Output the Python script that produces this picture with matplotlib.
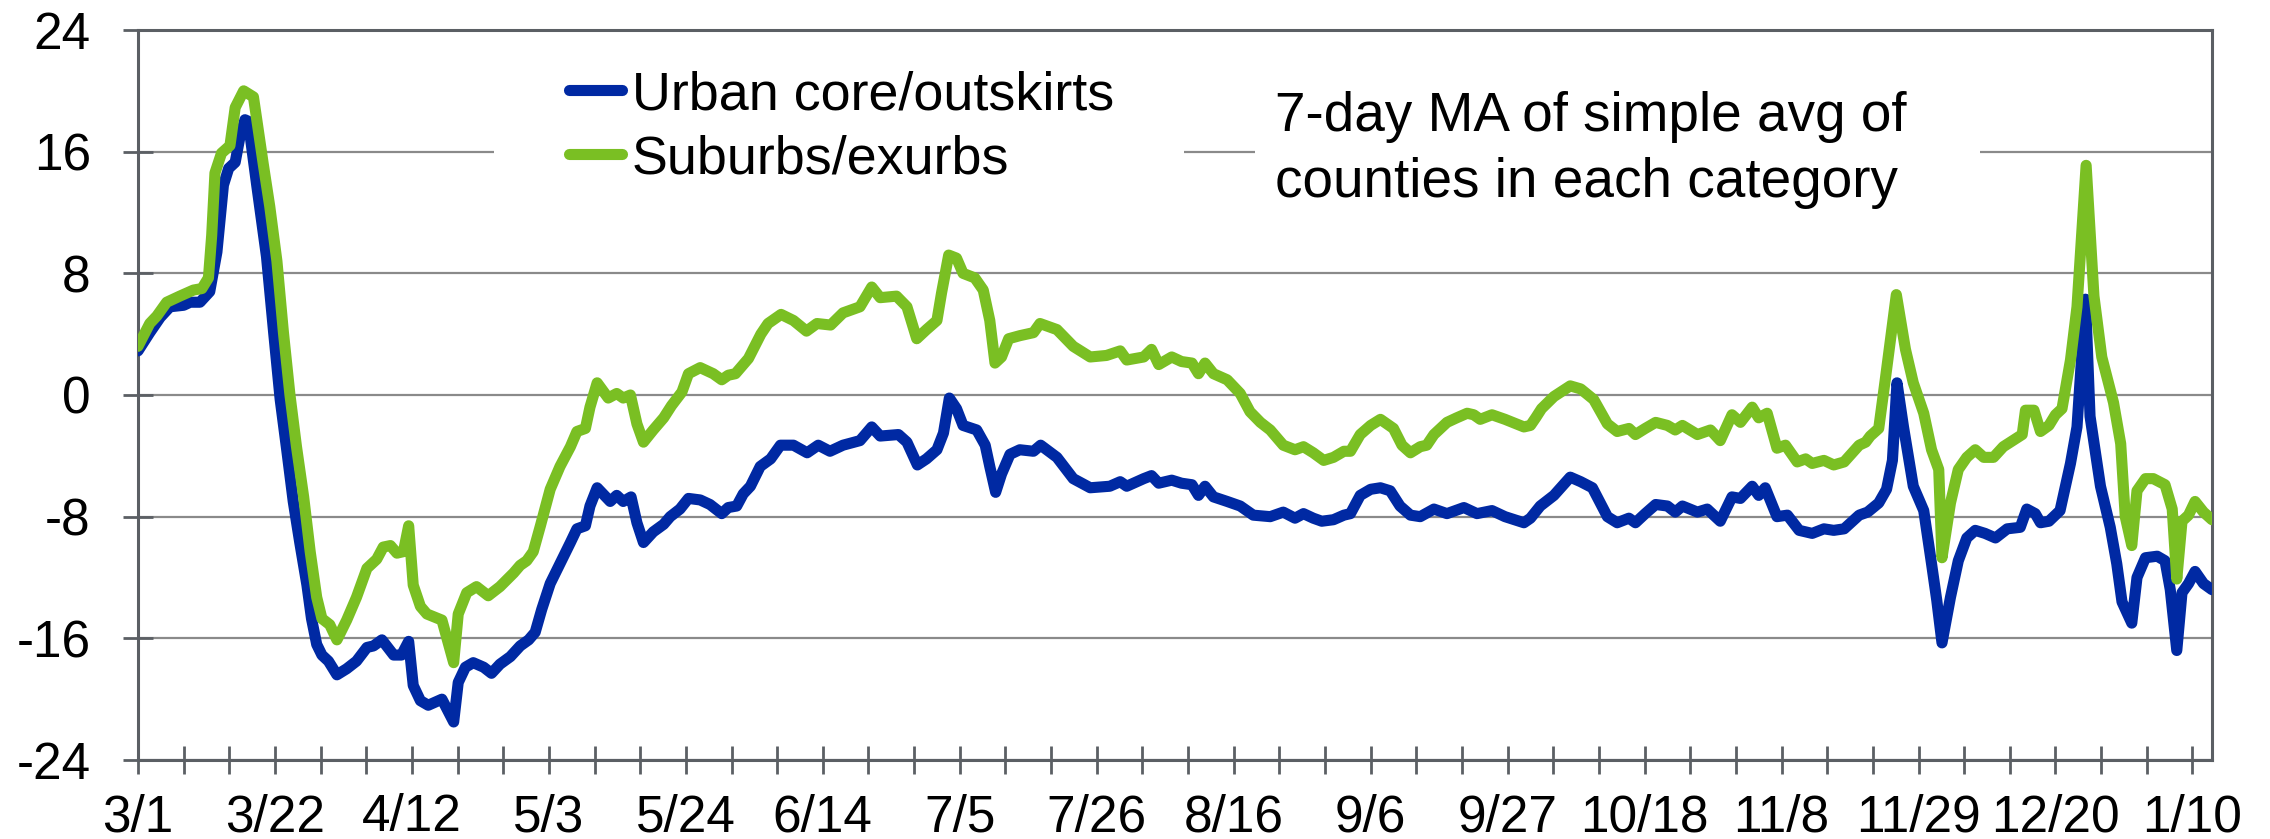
import matplotlib
matplotlib.use("Agg")
import matplotlib.pyplot as plt
from matplotlib.patches import Rectangle

plt.rcParams['font.family'] = ['Liberation Sans', 'DejaVu Sans']

# days since 3/1 and values
urban_days = [0, 1.8, 3.4, 4.9, 7.0, 8.0, 9.5, 11.0, 12.1, 13.1, 13.9, 14.9, 15.6, 16.4, 16.9, 18.2,
              19.7, 20.8, 21.8, 22.8, 23.8, 24.8, 25.9, 26.6, 27.4, 28.2, 29.2, 30.5, 32.0, 33.5,
              35.1, 36.1, 37.4, 39.2, 40.4, 41.5, 42.2, 43.3, 44.5, 46.6, 48.4, 49.1, 50.2, 51.4,
              53.0, 54.2, 55.5, 57.1, 58.6, 59.9, 60.9, 61.9, 63.2, 64.7, 66.3, 67.3, 68.6, 69.3,
              70.4, 72.4, 73.4, 74.4, 75.6, 76.5, 77.5, 79.0, 80.6, 81.6, 83.1, 84.4, 86.2, 87.7,
              89.5, 90.5, 91.8, 92.8, 93.9, 95.4, 97.0, 98.5, 100.5, 102.6, 104.3, 106.1, 108.1,
              110.7, 112.5, 113.8, 116.6, 117.9, 119.5, 120.9, 122.5, 123.5, 124.4, 125.5, 126.5,
              128.6, 129.9, 130.6, 131.5, 132.4, 133.7, 135.2, 137.3, 138.4, 140.9, 143.4, 146.0,
              149.0, 150.6, 151.6, 154.2, 155.4, 156.5, 158.5, 160.0, 161.6, 162.6, 163.6, 164.9,
              167.0, 169.0, 171.0, 173.6, 175.6, 177.4, 178.7, 180.2, 181.5, 183.3, 184.9, 185.9,
              187.4, 189.0, 190.5, 192.0, 193.5, 195.1, 196.6, 198.7, 200.7, 203.3, 205.3, 207.6,
              209.6, 212.5, 213.5, 215.0, 217.1, 219.6, 221.2, 223.0, 225.3, 226.8, 228.6, 229.6,
              231.1, 232.7, 234.5, 235.7, 236.8, 239.1, 240.6, 242.6, 244.4, 245.7, 247.5, 248.5,
              249.5, 251.3, 252.9, 254.7, 256.7, 258.5, 260.0, 261.6, 263.9, 265.2, 266.9, 268.1,
              269.0, 269.7, 270.7, 272.2, 273.8, 275.0, 275.8, 276.6, 277.9, 279.1, 280.4, 281.7,
              283.2, 284.8, 286.6, 288.6, 289.6, 290.9, 291.7, 293.0, 294.7, 296.3, 297.3, 298.6,
              299.3, 300.9, 302.4, 303.4, 304.2, 305.7, 306.5, 307.8, 309.6, 310.8, 311.6, 312.6,
              313.4, 314.4, 315.4, 316.7, 318.0]
urban_vals = [2.9, 4.1, 5.1, 5.8, 5.9, 6.1, 6.1, 6.8, 9.4, 13.8, 14.9, 15.3, 16.9, 18.1, 18.0, 13.8,
              9.1, 4.1, -0.3, -3.6, -7.0, -9.7, -12.5, -14.7, -16.4, -17.1, -17.5, -18.4, -18.0, -17.5,
              -16.6, -16.5, -16.1, -17.1, -17.1, -16.2, -19.1, -20.1, -20.4, -20.0, -21.5, -18.9, -17.9, -17.6,
              -17.9, -18.3, -17.7, -17.2, -16.5, -16.1, -15.6, -14.1, -12.4, -11.1, -9.7, -8.8, -8.6, -7.3,
              -6.1, -7.0, -6.6, -7.0, -6.7, -8.4, -9.7, -9.0, -8.5, -8.0, -7.5, -6.8, -6.9, -7.2,
              -7.8, -7.4, -7.3, -6.5, -6.0, -4.7, -4.2, -3.3, -3.3, -3.8, -3.3, -3.7, -3.3,
              -3.0, -2.1, -2.7, -2.6, -3.1, -4.6, -4.2, -3.6, -2.5, -0.2, -0.9, -2.0,
              -2.3, -3.3, -4.7, -6.4, -5.2, -3.9, -3.6, -3.7, -3.3, -4.1, -5.5, -6.1,
              -6.0, -5.7, -6.0, -5.5, -5.3, -5.8, -5.6, -5.8, -5.9, -6.6, -6.0, -6.7,
              -7.0, -7.3, -7.9, -8.0, -7.7, -8.1, -7.8, -8.1, -8.3, -8.2, -7.9, -7.8,
              -6.6, -6.2, -6.1, -6.3, -7.3, -7.9, -8.0, -7.5, -7.8, -7.4, -7.8, -7.6,
              -8.0, -8.4, -8.1, -7.3, -6.6, -5.4, -5.7, -6.1, -8.0, -8.4, -8.1, -8.4,
              -7.8, -7.2, -7.3, -7.7, -7.3, -7.7, -7.5, -8.3, -6.7, -6.8, -6.0, -6.6,
              -6.1, -8.0, -7.9, -8.9, -9.1, -8.8, -8.9, -8.8, -7.9, -7.7, -7.1, -6.2,
              -4.3, 0.8, -2.1, -6.0, -7.6, -11.1, -13.5, -16.3, -13.3, -10.9, -9.4, -8.9,
              -9.1, -9.4, -8.8, -8.7, -7.5, -7.8, -8.4, -8.3, -7.6, -4.5, -2.1, 6.3,
              -1.4, -6.0, -8.7, -11.1, -13.6, -15.0, -12.0, -10.7, -10.6, -10.9, -12.8, -16.8,
              -13.0, -12.4, -11.6, -12.4, -12.8]

suburb_days = [0, 1.8, 2.9, 4.4, 6.4, 8.5, 9.8, 10.8, 11.3, 11.8, 12.8, 14.1, 14.9, 16.2, 17.7, 19.2,
               20.2, 21.3, 22.3, 23.3, 24.3, 25.4, 26.4, 27.4, 28.2, 29.4, 30.5, 32.0, 33.5, 35.1,
               36.6, 37.6, 38.7, 39.7, 40.7, 41.5, 42.2, 43.3, 44.3, 46.6, 48.4, 49.1, 50.4, 51.9,
               53.7, 55.5, 57.6, 58.6, 59.6, 60.6, 61.7, 63.2, 64.7, 66.3, 67.3, 68.6, 69.3, 70.4,
               72.1, 73.4, 74.4, 75.5, 76.5, 77.5, 79.0, 80.6, 81.8, 83.4, 84.4, 86.2, 88.2, 89.5,
               90.5, 91.6, 93.6, 95.5, 96.6, 98.6, 100.5, 102.5, 104.1, 106.2, 108.1, 110.7, 112.5,
               113.8, 116.3, 117.9, 119.4, 120.9, 122.5, 123.2, 124.3, 125.5, 126.5, 128.3, 129.6,
               130.6, 131.4, 132.4, 133.5, 135.2, 137.3, 138.3, 140.9, 143.4, 146.0, 148.5, 150.6,
               151.6, 154.2, 155.4, 156.5, 158.5, 160.0, 161.6, 162.6, 163.6, 164.9, 167.0, 169.0,
               170.5, 172.1, 173.6, 175.6, 177.4, 178.7, 180.2, 181.8, 183.3, 184.9, 185.9, 187.4,
               189.0, 190.5, 192.5, 193.8, 195.1, 196.6, 197.6, 198.7, 200.7, 202.2, 203.8, 204.8,
               205.8, 207.6, 209.6, 212.5, 213.5, 214.3, 215.2, 217.1, 219.6, 221.2, 223.2, 225.3,
               226.8, 228.6, 229.6, 231.1, 232.7, 234.5, 235.7, 236.8, 239.1, 241.1, 242.6, 244.4,
               245.7, 247.5, 248.5, 249.8, 251.3, 252.6, 254.4, 255.7, 256.7, 258.5, 260.0, 261.6,
               263.9, 264.9, 265.6, 266.9, 267.9, 269.6, 271.0, 272.2, 273.8, 275.0, 276.1, 276.6,
               277.9, 279.1, 280.4, 281.7, 283.0, 284.5, 286.0, 287.8, 288.9, 289.4, 290.7, 291.7,
               293.0, 294.0, 295.0, 296.3, 297.3, 298.7, 299.9, 301.1, 302.9, 304.0, 304.7, 305.7,
               306.5, 307.8, 309.0, 310.8, 311.9, 312.6, 313.4, 314.4, 315.4, 316.7, 318.0]
suburb_vals = [3.2, 4.7, 5.2, 6.1, 6.5, 6.9, 7.0, 7.7, 10.5, 14.6, 15.9, 16.4, 18.9, 20.0, 19.6, 15.2,
               12.4, 8.8, 4.1, 0.0, -3.4, -6.7, -10.3, -13.3, -14.7, -15.1, -16.1, -14.8, -13.3, -11.4,
               -10.8, -10.0, -9.9, -10.4, -10.3, -8.6, -12.5, -13.9, -14.4, -14.8, -17.6, -14.4, -13.0, -12.6,
               -13.2, -12.6, -11.7, -11.2, -10.9, -10.3, -8.6, -6.2, -4.7, -3.4, -2.4, -2.2, -0.8, 0.8,
               -0.2, 0.1, -0.2, 0.0, -1.9, -3.1, -2.3, -1.5, -0.7, 0.2, 1.4, 1.8, 1.4, 1.0,
               1.3, 1.4, 2.4, 4.0, 4.7, 5.3, 4.9, 4.2, 4.7, 4.6, 5.4, 5.8, 7.1,
               6.4, 6.5, 5.8, 3.7, 4.3, 4.9, 6.7, 9.2, 9.0, 8.0, 7.7, 6.9,
               4.9, 2.1, 2.5, 3.7, 3.9, 4.1, 4.7, 4.3, 3.2, 2.5, 2.6, 2.9,
               2.3, 2.5, 3.0, 2.0, 2.5, 2.2, 2.1, 1.4, 2.1, 1.4, 1.0, 0.1,
               -1.1, -1.8, -2.3, -3.3, -3.6, -3.4, -3.8, -4.3, -4.1, -3.7, -3.7, -2.6,
               -2.0, -1.6, -2.2, -3.3, -3.8, -3.4, -3.3, -2.6, -1.8, -1.5, -1.2, -1.3,
               -1.6, -1.3, -1.6, -2.1, -2.0, -1.5, -0.9, -0.1, 0.6, 0.4, -0.3, -1.9,
               -2.4, -2.2, -2.6, -2.2, -1.8, -2.0, -2.3, -2.0, -2.6, -2.3, -3.0, -1.3,
               -1.8, -0.8, -1.5, -1.2, -3.5, -3.3, -4.4, -4.2, -4.5, -4.3, -4.6, -4.4,
               -3.3, -3.1, -2.7, -2.2, 1.0, 6.6, 3.0, 0.8, -1.2, -3.6, -4.9, -10.7,
               -7.1, -4.9, -4.1, -3.6, -4.1, -4.1, -3.4, -2.9, -2.6, -1.0, -1.0, -2.4,
               -2.0, -1.3, -0.9, 2.3, 5.8, 15.1, 6.5, 2.5, -0.5, -3.2, -8.0, -9.9,
               -6.3, -5.5, -5.5, -5.9, -7.5, -12.1, -8.3, -7.9, -7.0, -7.7, -8.2]

tick_days = [0, 21, 42, 63, 84, 105, 126, 147, 168, 189, 210, 231, 252, 273, 294, 315]
tick_labels = ['3/1', '3/22', '4/12', '5/3', '5/24', '6/14', '7/5', '7/26', '8/16', '9/6',
               '9/27', '10/18', '11/8', '11/29', '12/20', '1/10']
y_ticks = [-24, -16, -8, 0, 8, 16, 24]
y_labels = ['-24', '-16', '-8', '0', '8', '16', '24']

W, H = 2270, 839
L, R, T, B = 138, 2212, 30, 760
fig = plt.figure(figsize=(W / 100, H / 100), dpi=100)
ax = fig.add_axes([L / W, 1 - B / H, (R - L) / W, (B - T) / H])


def ax_pos(px, py):
    return (px - L) / (R - L), (B - py) / (B - T)


axis_grey = '#5b5f64'
ax.plot(urban_days, urban_vals, color='#0029a3', lw=8, solid_joinstyle='round',
        solid_capstyle='round', label='Urban core/outskirts', zorder=3)
ax.plot(suburb_days, suburb_vals, color='#7abf23', lw=8, solid_joinstyle='round',
        solid_capstyle='round', label='Suburbs/exurbs', zorder=4)

ax.set_xlim(0, 318)
ax.set_ylim(-24, 24)
ax.set_xticks(tick_days)
ax.set_xticklabels(tick_labels)
ax.set_xticks(range(0, 319, 7), minor=True)
ax.set_yticks(y_ticks)
ax.set_yticklabels(y_labels)

ax.yaxis.grid(True, color='#8a8a8a', lw=1.6)
ax.set_axisbelow(True)
for s in ax.spines.values():
    s.set_color(axis_grey)
    s.set_linewidth(2.2)

ax.tick_params(axis='y', direction='inout', length=22, width=2, color=axis_grey,
               pad=23, labelsize=37)
ax.tick_params(axis='x', which='both', direction='inout', length=20, width=2,
               color=axis_grey, pad=14, labelsize=37)

# white boxes behind legend and note, hiding the gridline
for x0, x1 in [(494, 1184), (1255, 1980)]:
    a0, b0 = ax_pos(x0, 240)
    a1, b1 = ax_pos(x1, 40)
    ax.add_patch(Rectangle((a0, b0), a1 - a0, b1 - b0, transform=ax.transAxes,
                           facecolor='white', edgecolor='none', zorder=1))

lx, ly = ax_pos(569, 70)
leg = ax.legend(loc='upper left', bbox_to_anchor=(lx, ly), frameon=False, fontsize=38.8,
                handlelength=0.99, handletextpad=0.17, labelspacing=0.26, borderpad=0,
                borderaxespad=0)
for h in leg.get_lines():
    h.set_linewidth(8)
    h.set_solid_capstyle('round')

tx, ty = ax_pos(1275, 91)
ax.text(tx, ty, '7-day MA of simple avg of\ncounties in each category', transform=ax.transAxes,
        fontsize=39.5, ha='left', va='top', linespacing=1.36, zorder=5)

fig.savefig('out.png', dpi=100)
